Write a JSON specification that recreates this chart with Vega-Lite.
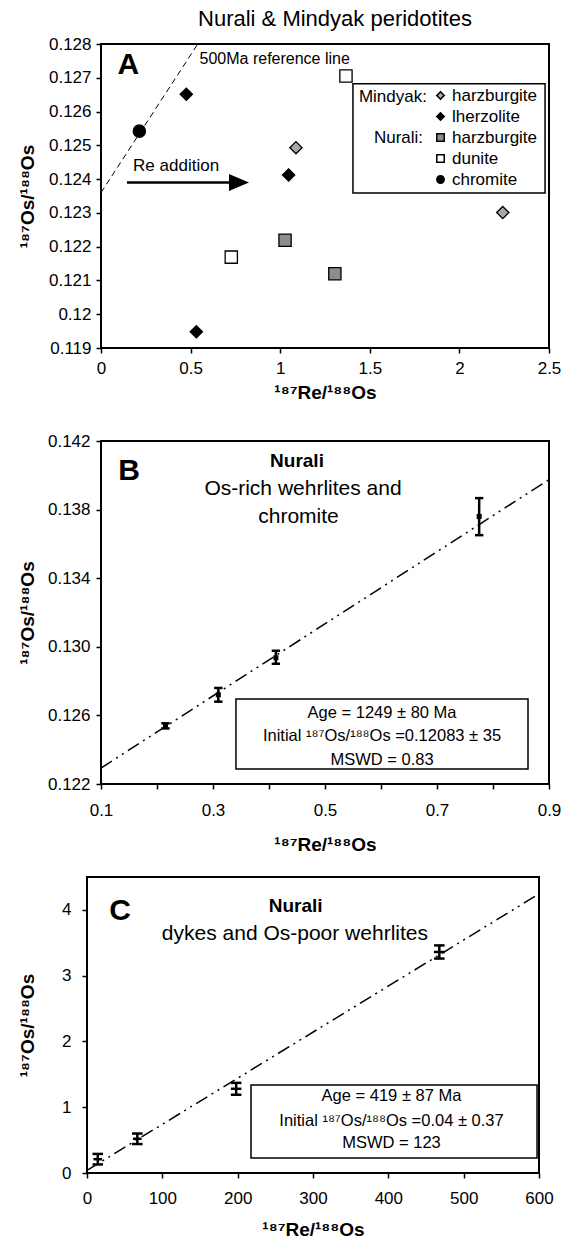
{
  "$schema": "https://vega.github.io/schema/vega-lite/v6.json",
  "padding": {"left": 17, "top": 7, "right": 2, "bottom": 0},
  "background": "white",
  "config": {
    "font": "Liberation Sans",
    "view": {"stroke": "black", "strokeWidth": 2},
    "axis": {
      "domain": false, "grid": false, "ticks": true, "tickColor": "black", "tickWidth": 1.5, "tickSize": 5,
      "labelColor": "black", "labelFont": "Liberation Sans", "labelFontSize": 17, "labelFlush": false, "labelOverlap": false,
      "titleFont": "Liberation Sans", "titleFontSize": 19, "titleFontWeight": "bold", "titleColor": "black"
    },
    "text": {"color": "black", "font": "Liberation Sans"}
  },
  "datasets": {
    "ptsA": [
      {"cls": "Mindyak harzburgite", "re": 1.088, "os": 0.12493},
      {"cls": "Mindyak harzburgite", "re": 2.242, "os": 0.12301},
      {"cls": "Mindyak lherzolite", "re": 0.476, "os": 0.12651},
      {"cls": "Mindyak lherzolite", "re": 1.047, "os": 0.12412},
      {"cls": "Mindyak lherzolite", "re": 0.532, "os": 0.11948},
      {"cls": "Nurali harzburgite", "re": 1.027, "os": 0.12219},
      {"cls": "Nurali harzburgite", "re": 1.305, "os": 0.1212},
      {"cls": "Nurali dunite", "re": 0.727, "os": 0.12169},
      {"cls": "Nurali dunite", "re": 1.367, "os": 0.12705},
      {"cls": "Nurali chromite", "re": 0.214, "os": 0.12542}
    ],
    "refA": [{"re": 0, "os": 0.1236}, {"re": 0.54, "os": 0.128}],
    "ptsB": [
      {"re": 0.2151, "os": 0.12539, "re_lo": 0.211, "re_hi": 0.219, "os_lo": 0.12524, "os_hi": 0.12554},
      {"re": 0.3095, "os": 0.1272, "re_lo": 0.3095, "re_hi": 0.3095, "os_lo": 0.1268, "os_hi": 0.1276},
      {"re": 0.4123, "os": 0.12936, "re_lo": 0.4123, "re_hi": 0.4123, "os_lo": 0.12901, "os_hi": 0.12977},
      {"re": 0.7753, "os": 0.1376, "re_lo": 0.7753, "re_hi": 0.7753, "os_lo": 0.13651, "os_hi": 0.13867}
    ],
    "isoB": [{"re": 0.1, "os": 0.12293}, {"re": 0.9, "os": 0.13975}],
    "ptsC": [
      {"re": 14.3, "os": 0.21, "re_lo": 8.5, "re_hi": 20, "os_lo": 0.13, "os_hi": 0.29},
      {"re": 66.8, "os": 0.52, "re_lo": 61, "re_hi": 72.5, "os_lo": 0.44, "os_hi": 0.6},
      {"re": 198, "os": 1.28, "re_lo": 191, "re_hi": 205, "os_lo": 1.19, "os_hi": 1.37},
      {"re": 467.7, "os": 3.36, "re_lo": 460.5, "re_hi": 475, "os_lo": 3.26, "os_hi": 3.46}
    ],
    "isoC": [{"re": 0, "os": 0.04}, {"re": 600, "os": 4.243}],
    "one": [{}]
  },
  "resolve": {
    "scale": {"fill": "independent", "shape": "independent"},
    "legend": {"fill": "independent", "shape": "independent"}
  },
  "bounds": "full",
  "spacing": 20,
  "vconcat": [
    {
      "bounds": "flush",
      "spacing": 10,
      "resolve": {
        "scale": {"fill": "independent", "shape": "independent"},
        "legend": {"fill": "independent", "shape": "independent"}
      },
      "hconcat": [
        {
          "width": 4, "height": 1,
          "view": {"stroke": null},
          "data": {"name": "one"},
          "mark": {"type": "text", "text": " ", "opacity": 0},
          "encoding": {}
        },
        {
          "bounds": "full",
          "spacing": 27,
          "resolve": {
            "scale": {"fill": "independent", "shape": "independent"},
            "legend": {"fill": "independent", "shape": "independent"}
          },
          "vconcat": [
            {
              "width": 448, "height": 304,
              "title": {"text": "Nurali & Mindyak peridotites", "fontSize": 22, "fontWeight": "normal", "offset": 4, "frame": "group", "anchor": "middle", "dx": 10, "color": "black", "font": "Liberation Sans"},
              "layer": [
                {
                  "data": {"name": "refA"},
                  "mark": {"type": "line", "color": "black", "strokeWidth": 1, "strokeDash": [6, 4]},
                  "encoding": {
                    "x": {"field": "re", "type": "quantitative", "scale": {"domain": [0, 2.5], "nice": false, "zero": false},
                          "axis": {"values": [0, 0.5, 1, 1.5, 2, 2.5], "format": "~g", "title": "¹⁸⁷Re/¹⁸⁸Os", "labelPadding": 7.5, "titlePadding": 7}},
                    "y": {"field": "os", "type": "quantitative", "scale": {"domain": [0.119, 0.128], "nice": false, "zero": false},
                          "axis": {"tickCount": 10, "format": "~g", "labelOverlap": false, "labelSeparation": -12, "title": "¹⁸⁷Os/¹⁸⁸Os", "titleX": -64, "labelPadding": 5}}
                  }
                },
                {
                  "data": {"name": "one"},
                  "mark": {"type": "rule", "color": "black", "strokeWidth": 2.5},
                  "encoding": {"x": {"datum": 0.145}, "x2": {"datum": 0.75}, "y": {"datum": 0.1239}}
                },
                {
                  "data": {"name": "one"},
                  "mark": {"type": "point", "shape": "M-1,-0.85L1,0L-1,0.85Z", "filled": true, "color": "black", "opacity": 1, "size": 400},
                  "encoding": {"x": {"datum": 0.77}, "y": {"datum": 0.1239}}
                },
                {
                  "data": {"name": "ptsA"},
                  "mark": {"type": "point", "filled": true, "stroke": "black", "strokeWidth": 1.3, "size": 150, "opacity": 1},
                  "encoding": {
                    "x": {"field": "re", "type": "quantitative"},
                    "y": {"field": "os", "type": "quantitative"},
                    "shape": {"field": "cls", "type": "nominal",
                              "scale": {"domain": ["Mindyak harzburgite", "Mindyak lherzolite", "Nurali harzburgite", "Nurali dunite", "Nurali chromite"],
                                        "range": ["diamond", "diamond", "square", "square", "circle"]},
                              "legend": {"orient": "none", "legendX": 331, "legendY": 43, "title": null, "labelExpr": "split(datum.label, ' ')[1]",
                                         "labelFontSize": 17, "labelFont": "Liberation Sans", "labelColor": "black", "symbolSize": 55,
                                         "labelOffset": 3, "rowPadding": 3, "padding": 0,
                                         "encode": {"symbols": {"update": {"stroke": {"value": "black"}, "strokeWidth": {"value": 1}, "opacity": {"value": 1}}}}}},
                    "fill": {"field": "cls", "type": "nominal",
                             "scale": {"domain": ["Mindyak harzburgite", "Mindyak lherzolite", "Nurali harzburgite", "Nurali dunite", "Nurali chromite"],
                                       "range": ["#a8a8a8", "#000000", "#8c8c8c", "#ffffff", "#000000"]},
                             "legend": {"orient": "none", "legendX": 331, "legendY": 43, "title": null, "labelExpr": "split(datum.label, ' ')[1]",
                                        "labelFontSize": 17, "labelFont": "Liberation Sans", "labelColor": "black", "symbolSize": 55,
                                        "labelOffset": 3, "rowPadding": 3, "padding": 0,
                                        "encode": {"symbols": {"update": {"stroke": {"value": "black"}, "strokeWidth": {"value": 1}, "opacity": {"value": 1}}}}}}
                  }
                },
                {
                  "data": {"name": "one"},
                  "mark": {"type": "rect", "fill": null, "fillOpacity": 0, "stroke": "black", "strokeWidth": 1.5},
                  "encoding": {"x": {"datum": 1.406}, "x2": {"datum": 2.478}, "y": {"datum": 0.12682}, "y2": {"datum": 0.12359}}
                },
                {
                  "data": {"name": "one"},
                  "mark": {"type": "text", "text": "A", "fontSize": 30, "fontWeight": "bold", "align": "center", "baseline": "middle"},
                  "encoding": {"x": {"datum": 0.153}, "y": {"datum": 0.12738}}
                },
                {
                  "data": {"name": "one"},
                  "mark": {"type": "text", "text": "500Ma reference line", "fontSize": 16, "align": "left", "baseline": "middle"},
                  "encoding": {"x": {"datum": 0.55}, "y": {"datum": 0.12756}}
                },
                {
                  "data": {"name": "one"},
                  "mark": {"type": "text", "text": "Re addition", "fontSize": 17, "align": "left", "baseline": "middle"},
                  "encoding": {"x": {"datum": 0.179}, "y": {"datum": 0.12439}}
                },
                {
                  "data": {"name": "one"},
                  "mark": {"type": "text", "text": "Mindyak:", "fontSize": 17, "align": "right", "baseline": "middle"},
                  "encoding": {"x": {"datum": 1.819}, "y": {"datum": 0.12643}}
                },
                {
                  "data": {"name": "one"},
                  "mark": {"type": "text", "text": "Nurali:", "fontSize": 17, "align": "right", "baseline": "middle"},
                  "encoding": {"x": {"datum": 1.797}, "y": {"datum": 0.12522}}
                }
              ]
            },
            {
              "width": 448, "height": 343,
              "layer": [
                {
                  "data": {"name": "isoB"},
                  "mark": {"type": "line", "color": "black", "strokeWidth": 1.5, "strokeDash": [13, 5, 2, 5, 2, 5]},
                  "encoding": {
                    "x": {"field": "re", "type": "quantitative", "scale": {"domain": [0.1, 0.9], "nice": false, "zero": false},
                          "axis": {"values": [0.1, 0.2, 0.3, 0.4, 0.5, 0.6, 0.7, 0.8, 0.9], "labelExpr": "round(datum.value*10) % 2 == 1 ? format(datum.value, '.1f') : ''", "title": "¹⁸⁷Re/¹⁸⁸Os", "labelPadding": 13.5, "titlePadding": 17}},
                    "y": {"field": "os", "type": "quantitative", "scale": {"domain": [0.122, 0.142], "nice": false, "zero": false},
                          "axis": {"values": [0.122, 0.124, 0.126, 0.128, 0.13, 0.132, 0.134, 0.136, 0.138, 0.14, 0.142], "labelExpr": "(round(datum.value*1000) - 122) % 4 == 0 ? format(datum.value, '.3f') : ''", "title": "¹⁸⁷Os/¹⁸⁸Os", "titleX": -64, "labelPadding": 6}}
                  }
                },
                {
                  "data": {"name": "ptsB"},
                  "layer": [
                    {"mark": {"type": "rule", "color": "black", "strokeWidth": 2.5},
                     "encoding": {"x": {"field": "re", "type": "quantitative"}, "y": {"field": "os_lo", "type": "quantitative"}, "y2": {"field": "os_hi"}}},
                    {"mark": {"type": "rule", "color": "black", "strokeWidth": 2.5},
                     "encoding": {"x": {"field": "re_lo", "type": "quantitative"}, "x2": {"field": "re_hi"}, "y": {"field": "os", "type": "quantitative"}}},
                    {"mark": {"type": "point", "shape": "stroke", "size": 70, "color": "black", "strokeWidth": 2.5, "opacity": 1},
                     "encoding": {"x": {"field": "re", "type": "quantitative"}, "y": {"field": "os_lo", "type": "quantitative"}}},
                    {"mark": {"type": "point", "shape": "stroke", "size": 70, "color": "black", "strokeWidth": 2.5, "opacity": 1},
                     "encoding": {"x": {"field": "re", "type": "quantitative"}, "y": {"field": "os_hi", "type": "quantitative"}}},
                    {"mark": {"type": "point", "shape": "square", "size": 25, "filled": true, "color": "black", "opacity": 1},
                     "encoding": {"x": {"field": "re", "type": "quantitative"}, "y": {"field": "os", "type": "quantitative"}}}
                  ]
                },
                {
                  "data": {"name": "one"},
                  "mark": {"type": "rect", "fill": null, "fillOpacity": 0, "stroke": "black", "strokeWidth": 1.5},
                  "encoding": {"x": {"datum": 0.341}, "x2": {"datum": 0.8625}, "y": {"datum": 0.12696}, "y2": {"datum": 0.12287}}
                },
                {
                  "data": {"name": "one"},
                  "mark": {"type": "text", "text": "Age = 1249 ± 80 Ma", "fontSize": 16.5, "align": "center", "baseline": "middle"},
                  "encoding": {"x": {"datum": 0.6018}, "y": {"datum": 0.12614}}
                },
                {
                  "data": {"name": "one"},
                  "mark": {"type": "text", "text": "Initial ¹⁸⁷Os/¹⁸⁸Os =0.12083 ± 35", "fontSize": 16.5, "align": "center", "baseline": "middle"},
                  "encoding": {"x": {"datum": 0.6018}, "y": {"datum": 0.12477}}
                },
                {
                  "data": {"name": "one"},
                  "mark": {"type": "text", "text": "MSWD = 0.83", "fontSize": 16.5, "align": "center", "baseline": "middle"},
                  "encoding": {"x": {"datum": 0.6018}, "y": {"datum": 0.1234}}
                },
                {
                  "data": {"name": "one"},
                  "mark": {"type": "text", "text": "B", "fontSize": 30, "fontWeight": "bold", "align": "center", "baseline": "middle"},
                  "encoding": {"x": {"datum": 0.15}, "y": {"datum": 0.14025}}
                },
                {
                  "data": {"name": "one"},
                  "mark": {"type": "text", "text": "Nurali", "fontSize": 19, "fontWeight": "bold", "align": "center", "baseline": "middle"},
                  "encoding": {"x": {"datum": 0.45}, "y": {"datum": 0.14083}}
                },
                {
                  "data": {"name": "one"},
                  "mark": {"type": "text", "text": "Os-rich wehrlites and", "fontSize": 21, "align": "center", "baseline": "middle"},
                  "encoding": {"x": {"datum": 0.4607}, "y": {"datum": 0.1392}}
                },
                {
                  "data": {"name": "one"},
                  "mark": {"type": "text", "text": "chromite", "fontSize": 21, "align": "center", "baseline": "middle"},
                  "encoding": {"x": {"datum": 0.4527}, "y": {"datum": 0.13757}}
                }
              ]
            }
          ]
        }
      ]
    },
    {
      "width": 452, "height": 296,
      "layer": [
        {
          "data": {"name": "isoC"},
          "mark": {"type": "line", "color": "black", "strokeWidth": 1.5, "strokeDash": [13, 5, 2, 5, 2, 5]},
          "encoding": {
            "x": {"field": "re", "type": "quantitative", "scale": {"domain": [0, 600], "nice": false, "zero": false},
                  "axis": {"values": [0, 50, 100, 150, 200, 250, 300, 350, 400, 450, 500, 550, 600], "format": "d", "labelExpr": "datum.value % 100 == 0 ? datum.label : ''", "title": "¹⁸⁷Re/¹⁸⁸Os", "labelPadding": 12.5, "titlePadding": 14}},
            "y": {"field": "os", "type": "quantitative", "scale": {"domain": [0, 4.5], "nice": false, "zero": false},
                  "axis": {"values": [0, 0.5, 1, 1.5, 2, 2.5, 3, 3.5, 4, 4.5], "format": "d", "labelExpr": "datum.value % 1 == 0 ? datum.label : ''", "title": "¹⁸⁷Os/¹⁸⁸Os", "titleX": -50, "labelPadding": 11}}
          }
        },
        {
          "data": {"name": "ptsC"},
          "layer": [
            {"mark": {"type": "rule", "color": "black", "strokeWidth": 2.5},
             "encoding": {"x": {"field": "re", "type": "quantitative"}, "y": {"field": "os_lo", "type": "quantitative"}, "y2": {"field": "os_hi"}}},
            {"mark": {"type": "rule", "color": "black", "strokeWidth": 2.5},
             "encoding": {"x": {"field": "re_lo", "type": "quantitative"}, "x2": {"field": "re_hi"}, "y": {"field": "os", "type": "quantitative"}}},
            {"mark": {"type": "point", "shape": "stroke", "size": 110, "color": "black", "strokeWidth": 2.5, "opacity": 1},
             "encoding": {"x": {"field": "re", "type": "quantitative"}, "y": {"field": "os_lo", "type": "quantitative"}}},
            {"mark": {"type": "point", "shape": "stroke", "size": 110, "color": "black", "strokeWidth": 2.5, "opacity": 1},
             "encoding": {"x": {"field": "re", "type": "quantitative"}, "y": {"field": "os_hi", "type": "quantitative"}}}
          ]
        },
        {
          "data": {"name": "one"},
          "mark": {"type": "rect", "fill": null, "fillOpacity": 0, "stroke": "black", "strokeWidth": 1.5},
          "encoding": {"x": {"datum": 217.7}, "x2": {"datum": 597.4}, "y": {"datum": 1.338}, "y2": {"datum": 0.228}}
        },
        {
          "data": {"name": "one"},
          "mark": {"type": "text", "text": "Age = 419 ± 87 Ma", "fontSize": 16.5, "align": "center", "baseline": "middle"},
          "encoding": {"x": {"datum": 404.2}, "y": {"datum": 1.171}}
        },
        {
          "data": {"name": "one"},
          "mark": {"type": "text", "text": "Initial ¹⁸⁷Os/¹⁸⁸Os =0.04 ± 0.37", "fontSize": 16.5, "align": "center", "baseline": "middle"},
          "encoding": {"x": {"datum": 404.2}, "y": {"datum": 0.79}}
        },
        {
          "data": {"name": "one"},
          "mark": {"type": "text", "text": "MSWD = 123", "fontSize": 16.5, "align": "center", "baseline": "middle"},
          "encoding": {"x": {"datum": 404.2}, "y": {"datum": 0.456}}
        },
        {
          "data": {"name": "one"},
          "mark": {"type": "text", "text": "C", "fontSize": 30, "fontWeight": "bold", "align": "center", "baseline": "middle"},
          "encoding": {"x": {"datum": 43.8}, "y": {"datum": 3.98}}
        },
        {
          "data": {"name": "one"},
          "mark": {"type": "text", "text": "Nurali", "fontSize": 19, "fontWeight": "bold", "align": "center", "baseline": "middle"},
          "encoding": {"x": {"datum": 277}, "y": {"datum": 4.06}}
        },
        {
          "data": {"name": "one"},
          "mark": {"type": "text", "text": "dykes and Os-poor wehrlites", "fontSize": 21, "align": "center", "baseline": "middle"},
          "encoding": {"x": {"datum": 276}, "y": {"datum": 3.63}}
        }
      ]
    }
  ]
}
